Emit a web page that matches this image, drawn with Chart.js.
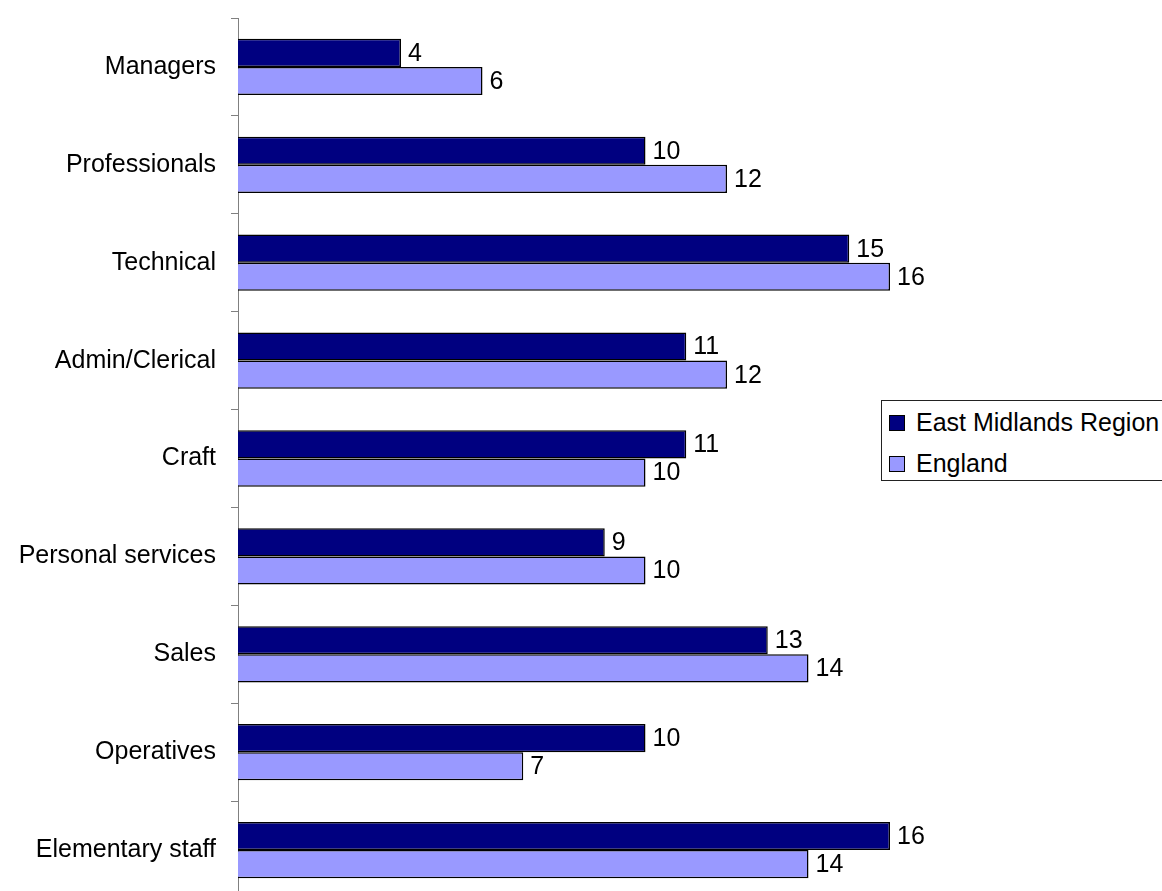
<!DOCTYPE html>
<html>
<head>
<meta charset="utf-8">
<script src="https://cdn.jsdelivr.net/npm/chart.js@4.4.1/dist/chart.umd.min.js"></script>
<style>
  html, body { margin: 0; padding: 0; background: #fff; overflow: hidden; }
  #wrap { position: relative; width: 1162px; height: 900px; }
  #c { display: block; }
  #legend { position: absolute; left: 881px; top: 400px; width: 300px; height: 81px;
    border: 1px solid #222; background: #fff; font-family: "Liberation Sans", Arial, sans-serif;
    font-size: 25px; color: #000; box-sizing: border-box; }
  .item { position: absolute; left: 7px; height: 28px; line-height: 28px; white-space: nowrap; }
  .sw { position: absolute; left: 0; top: 6px; width: 16px; height: 16px; box-sizing: border-box; border: 1px solid #000; }
  .txt { position: absolute; left: 27px; top: -1px; }
</style>
</head>
<body>
<div id="wrap">
  <canvas id="c" width="1162" height="900"></canvas>
  <div id="legend"></div>
</div>
<script>
const categories = ["Managers", "Professionals", "Technical", "Admin/Clerical", "Craft",
  "Personal services", "Sales", "Operatives", "Elementary staff"];
const seriesNames = ["East Midlands Region", "England"];
const eastMidlands = [4, 10, 15, 11, 11, 9, 13, 10, 16];
const england = [6, 12, 16, 12, 10, 10, 14, 7, 14];
const colors = ["#000080", "#9999FF"];

const FONT = '"Liberation Sans", Arial, sans-serif';

const valueLabels = {
  id: 'valueLabels',
  afterDatasetsDraw(chart) {
    const ctx = chart.ctx;
    ctx.save();
    ctx.font = '25px ' + FONT;
    ctx.fillStyle = '#000';
    ctx.textAlign = 'left';
    ctx.textBaseline = 'middle';
    chart.data.datasets.forEach((ds, i) => {
      const meta = chart.getDatasetMeta(i);
      meta.data.forEach((el, j) => {
        ctx.fillText(String(ds.data[j]), el.x + 7, el.y + 1);
      });
    });
    ctx.restore();
  }
};

new Chart(document.getElementById('c'), {
  type: 'bar',
  data: {
    labels: categories,
    datasets: [
      { label: seriesNames[0], data: eastMidlands, backgroundColor: colors[0], borderColor: '#000', borderWidth: 1.5 },
      { label: seriesNames[1], data: england, backgroundColor: colors[1], borderColor: '#000', borderWidth: 1.5 }
    ]
  },
  options: {
    indexAxis: 'y',
    responsive: false,
    animation: false,
    events: [],
    categoryPercentage: 0.575,
    barPercentage: 1.0,
    layout: { padding: { top: 18, bottom: 1, left: 0, right: 109 } },
    plugins: { legend: { display: false }, tooltip: { enabled: false } },
    scales: {
      x: { display: false, min: 0, max: 20 },
      y: {
        afterFit(scale) { scale.width = 238; scale.paddingTop = 0; scale.paddingBottom = 0; },
        grid: { drawOnChartArea: false, drawTicks: true, tickLength: 7, color: '#808080', offset: true },
        border: { display: true, color: '#808080', width: 1 },
        ticks: { autoSkip: false, padding: 15, color: '#000', font: { family: FONT, size: 25 } }
      }
    }
  },
  plugins: [valueLabels]
});

const legend = document.getElementById('legend');
seriesNames.forEach((name, i) => {
  const it = document.createElement('div');
  it.className = 'item';
  it.style.top = (i === 0 ? 8 : 49) + 'px';
  it.innerHTML = '<span class="sw" style="background:' + colors[i] + '"></span><span class="txt">' + name + '</span>';
  legend.appendChild(it);
});
</script>
</body>
</html>
